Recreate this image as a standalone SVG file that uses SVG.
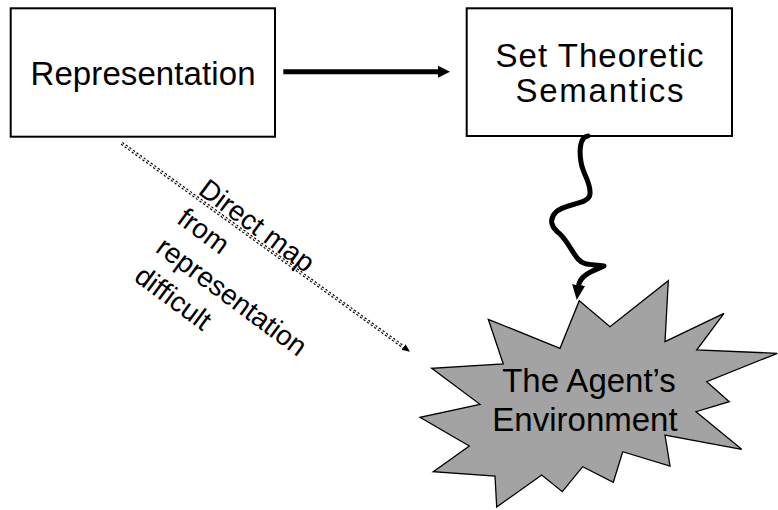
<svg xmlns="http://www.w3.org/2000/svg" width="778" height="510" viewBox="0 0 778 510">
  <style>
    .box { fill: #ffffff; stroke: #000000; stroke-width: 2; }
    .lbl { font-family: "Liberation Sans", Arial, sans-serif; font-size: 33px; fill: #000000; text-anchor: middle; }
    .note { font-family: "Liberation Sans", Arial, sans-serif; font-size: 28px; fill: #000000; }
    .star { fill: #a3a3a3; stroke: #000000; stroke-width: 1.3; stroke-linejoin: miter; }
  </style>
  <defs>
    <marker id="headBig" markerUnits="userSpaceOnUse" markerWidth="13" markerHeight="13" refX="0" refY="6" orient="auto">
      <path d="M0,0 L12,6 L0,12 z" fill="#000000"/>
    </marker>
    <marker id="headSquig" markerUnits="userSpaceOnUse" markerWidth="16" markerHeight="14" refX="1" refY="6.5" orient="auto">
      <path d="M0,0 L15,6.5 L0,13 z" fill="#000000"/>
    </marker>
    <marker id="headSmall" markerUnits="userSpaceOnUse" markerWidth="9" markerHeight="8" refX="0" refY="3.5" orient="auto">
      <path d="M0,0 L8,3.5 L0,7 z" fill="#000000"/>
    </marker>
  </defs>

  <g id="node-representation">
    <rect class="box" x="10.7" y="8.3" width="264.3" height="128.4"/>
    <text class="lbl" x="143" y="85" textLength="225">Representation</text>
  </g>

  <g id="node-semantics">
    <rect class="box" x="466.7" y="8.3" width="265.3" height="127.7"/>
    <text class="lbl" x="599.5" y="66.7" textLength="208">Set Theoretic</text>
    <text class="lbl" x="599.5" y="101.7" textLength="168">Semantics</text>
  </g>

  <g id="node-environment">
    <polygon class="star" points="579.3,300.7 610,326.7 668.3,280.7 665,341.7 724,313.3 696.7,350 777.3,353.3 706.7,381.7 729.3,401.7 696,411.7 741.7,449.3 665,435 670,466 622.7,451.7 613.3,482.3 582.7,466.7 562.3,491.7 541.7,475 496.7,507 495,476 433.3,471.7 469.3,446 420,417.3 480,404.3 431.7,368.3 503.3,364 488.3,319.3 560,348.3"/>
    <text class="lbl" x="589" y="392">The Agent’s</text>
    <text class="lbl" x="585" y="431">Environment</text>
  </g>

  <g id="connectors">
    <line x1="283.3" y1="71.7" x2="438" y2="71.7" stroke="#000000" stroke-width="5" marker-end="url(#headBig)"/>
    <path d="M588,136 C580,137 579,150 581,162 C583,175 591,182 590,194 C589,205 565,203 556,212 C548,220 552,228 560,234 C568,242 572,252 578,259 C584,266 592,264 604,266 C596,270 580,274 578.5,286" fill="none" stroke="#000000" stroke-width="5" stroke-linecap="round" stroke-linejoin="round" marker-end="url(#headSquig)"/>
    <line x1="121.7" y1="143.3" x2="403.5" y2="347" stroke="#000000" stroke-width="3.4" stroke-dasharray="2.2 2.2" marker-end="url(#headSmall)"/>
    <line x1="121.7" y1="143.3" x2="403.5" y2="347" stroke="#ffffff" stroke-width="1.1" stroke-dasharray="2.2 2.2"/>
  </g>

  <g id="label-direct-map" transform="translate(197,193) rotate(36.5)">
    <text class="note" x="0" y="0">Direct map</text>
    <text class="note" x="0" y="36">from</text>
    <text class="note" x="0" y="72">representation</text>
    <text class="note" x="0" y="108">difficult</text>
  </g>
</svg>
